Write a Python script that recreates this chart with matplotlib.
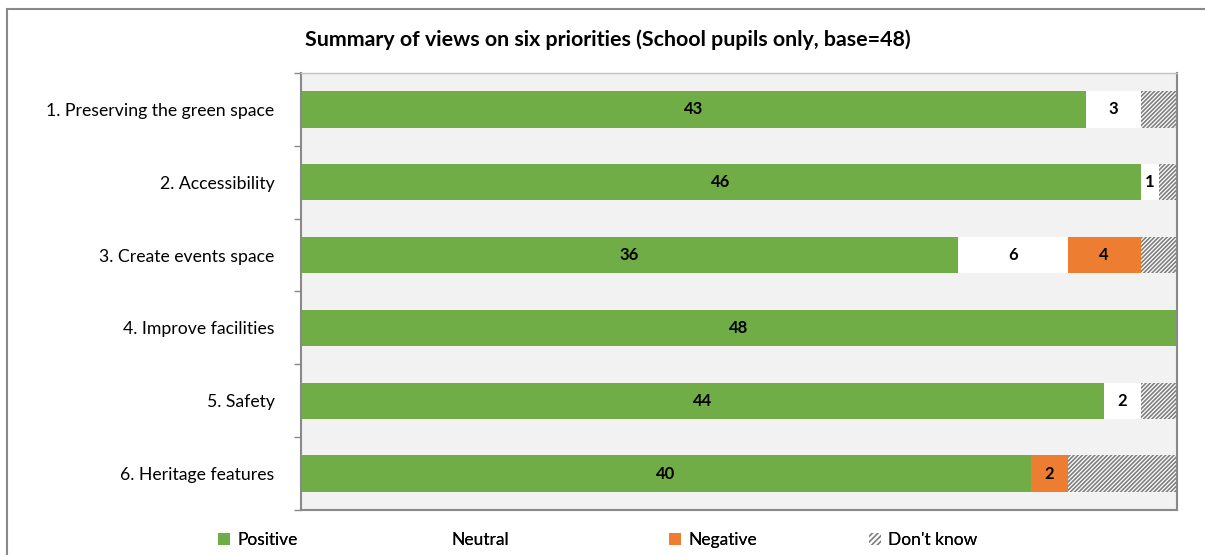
import numpy as np
import matplotlib.pyplot as plt
from matplotlib.patches import Patch, Rectangle

plt.rcParams['font.family'] = ['Lato', 'DejaVu Sans']
plt.rcParams['hatch.linewidth'] = 1.2

priorities = ["1. Preserving the green space", "2. Accessibility", "3. Create events space",
              "4. Improve facilities", "5. Safety", "6. Heritage features"]
positive = [43, 46, 36, 48, 44, 40]
neutral = [3, 1, 6, 0, 2, 0]
negative = [0, 0, 4, 0, 0, 2]
dont_know = [2, 1, 2, 0, 2, 6]

GREEN = '#70ad47'
ORANGE = '#ed7d31'
HATCH = '////////'
HATCH_COL = '#7f7f7f'

fig = plt.figure(figsize=(12.05, 5.55), dpi=100)
ax = fig.add_axes([0.2498, 0.0811, 0.7270, 0.7874])
ax.set_facecolor('#f2f2f2')

y = np.arange(len(priorities))
h = 0.5
left = np.zeros(len(priorities))
series = [
    ("Positive", positive, dict(color=GREEN)),
    ("Neutral", neutral, dict(color='white')),
    ("Negative", negative, dict(color=ORANGE)),
    ("Don't know", dont_know, dict(color='white', hatch=HATCH, edgecolor=HATCH_COL, linewidth=0)),
]
for name, vals, style in series:
    vals = np.array(vals, dtype=float)
    ax.barh(y, vals, left=left, height=h, **style)
    if name != "Don't know":
        for yi, l, v in zip(y, left, vals):
            if v > 0:
                ax.text(l + v / 2, yi, str(int(v)), ha='center', va='center',
                        fontsize=12, fontweight='bold', color='black')
    left += vals

ax.set_xlim(0, 48)
ax.set_ylim(len(priorities) - 0.5, -0.5)
ax.set_xticks([])
ax.set_yticks(y)
ax.set_yticklabels(priorities, fontsize=12.7)
ax.set_yticks(np.arange(-0.5, len(priorities)), minor=True)
ax.tick_params(axis='y', which='major', length=0, pad=19)
ax.tick_params(axis='y', which='minor', length=5, color='#898989', width=1)
for side in ['left', 'right', 'bottom', 'top']:
    ax.spines[side].set_color('#898989')
    ax.spines[side].set_linewidth(1.5)
ax.spines['top'].set_color('#bfbfbf')
ax.spines['top'].set_linewidth(1)

fig.text(0.504, 0.928, "Summary of views on six priorities (School pupils only, base=48)",
         ha='center', va='center', fontsize=15.4, fontweight='bold')

# legend entries placed one by one to keep the uneven spacing
entries = [
    ("Positive", Patch(facecolor=GREEN), 218),
    ("Neutral", Patch(facecolor='white'), 432),
    ("Negative", Patch(facecolor=ORANGE), 669),
    ("Don't know", Patch(facecolor='white', hatch='//////', edgecolor=HATCH_COL, linewidth=0), 869),
]
for label, handle, xpx in entries:
    leg = fig.legend([handle], [label], loc='center left', bbox_to_anchor=(xpx / 1205, 0.027),
                     frameon=False, fontsize=12.5, handlelength=0.7, handleheight=0.7,
                     handletextpad=0.4, borderpad=0, borderaxespad=0)
    fig.add_artist(leg)

fig.patches.append(Rectangle((7 / 1205, -0.1), 1.2, 1.1 - 9 / 555, transform=fig.transFigure,
                             fill=False, edgecolor='#898989', linewidth=1.5, clip_on=False))

fig.savefig('out.png', dpi=100)
